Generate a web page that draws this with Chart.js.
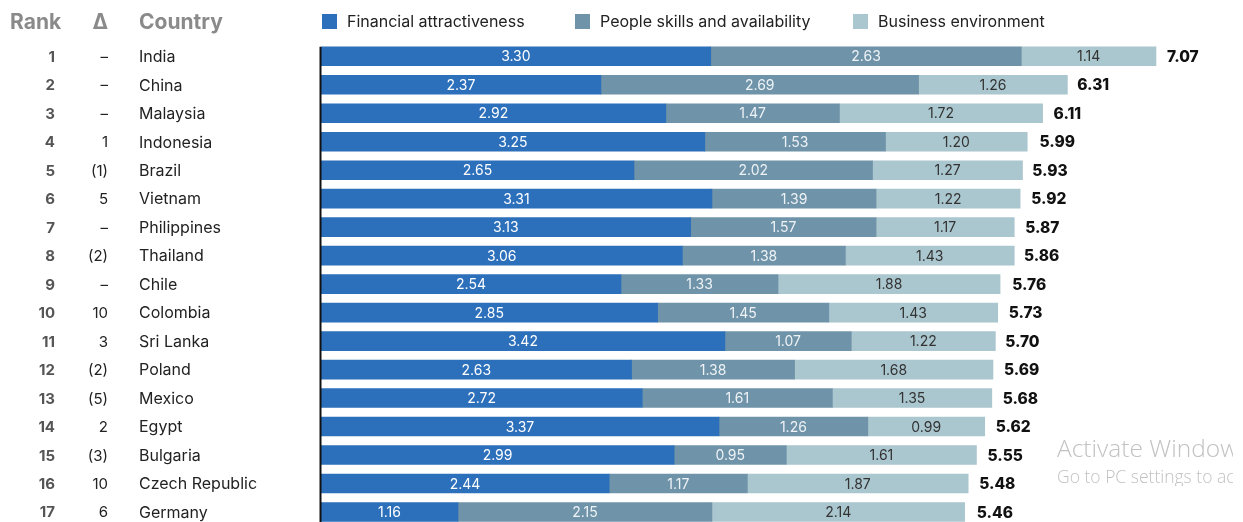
<!DOCTYPE html>
<html>
<head>
<meta charset="utf-8">
<script src="https://cdn.jsdelivr.net/npm/chart.js@4"></script>
<style>
  html, body { margin: 0; padding: 0; background: #fff; overflow: hidden; width: 1243px; height: 522px; }
  #wrap { position: relative; width: 1243px; height: 530px; }
  .wm { position: absolute; left: 1057px; width: 176px; overflow: hidden; color: #c2c2c2; font-family: "Open Sans", "Noto Sans", sans-serif; font-weight: 300; white-space: nowrap; line-height: 1; }
  #wm1 { top: 436px; font-size: 24.5px; }
  #wm2 { top: 468px; font-size: 17.5px; }
</style>
</head>
<body>
<div id="wrap">
  <canvas id="c" width="1243" height="530"></canvas>
  <div class="wm" id="wm1">Activate Windows</div>
  <div class="wm" id="wm2">Go to PC settings to activate Windows.</div>
</div>
<script>
const countries = ["India","China","Malaysia","Indonesia","Brazil","Vietnam","Philippines","Thailand","Chile","Colombia","Sri Lanka","Poland","Mexico","Egypt","Bulgaria","Czech Republic","Germany"];
const ranks = ["1","2","3","4","5","6","7","8","9","10","11","12","13","14","15","16","17"];
const deltas = ["–","–","–","1","(1)","5","–","(2)","–","10","3","(2)","(5)","2","(3)","10","6"];
const financial = [3.30,2.37,2.92,3.25,2.65,3.31,3.13,3.06,2.54,2.85,3.42,2.63,2.72,3.37,2.99,2.44,1.16];
const people = [2.63,2.69,1.47,1.53,2.02,1.39,1.57,1.38,1.33,1.45,1.07,1.38,1.61,1.26,0.95,1.17,2.15];
const business = [1.14,1.26,1.72,1.20,1.27,1.22,1.17,1.43,1.88,1.43,1.22,1.68,1.35,0.99,1.61,1.87,2.14];
const totals = [7.07,6.31,6.11,5.99,5.93,5.92,5.87,5.86,5.76,5.73,5.70,5.69,5.68,5.62,5.55,5.48,5.46];
const seriesNames = ["Financial attractiveness","People skills and availability","Business environment"];
const headers = ["Rank","Δ","Country"];

const FONT = "Inter, 'Open Sans', sans-serif";
const colors = ["#2c6fba","#6f93a8","#aac6ce"];
const labelColors = ["#ffffff","#eef3f6","#333333"];

const overlay = {
  id: "overlay",
  afterDatasetsDraw(chart) {
    const ctx = chart.ctx;
    const x = chart.scales.x, y = chart.scales.y;
    ctx.save();
    ctx.textBaseline = "middle";
    // segment value labels
    chart.data.datasets.forEach((ds, di) => {
      const meta = chart.getDatasetMeta(di);
      meta.data.forEach((bar, i) => {
        ctx.font = "14px " + FONT;
        ctx.fillStyle = labelColors[di];
        ctx.textAlign = "center";
        ctx.fillText(ds.data[i].toFixed(2), (bar.x + bar.base) / 2, bar.y + 1);
      });
    });
    // totals
    totals.forEach((t, i) => {
      ctx.font = "800 15.5px " + FONT;
      ctx.fillStyle = "#111";
      ctx.textAlign = "left";
      ctx.fillText(t.toFixed(2), x.getPixelForValue(t) + 11, y.getPixelForValue(i) + 1);
    });
    // rank, delta, country columns
    countries.forEach((c, i) => {
      const py = y.getPixelForValue(i) + 1;
      ctx.font = "bold 15px " + FONT;
      ctx.fillStyle = "#555";
      ctx.textAlign = "right";
      ctx.fillText(ranks[i], 55, py);
      ctx.font = "15px " + FONT;
      ctx.fillStyle = "#222";
      ctx.fillText(deltas[i], 108, py);
      ctx.font = "16px " + FONT;
      ctx.textAlign = "left";
      ctx.fillText(c, 139, py);
    });
    // headers
    ctx.font = "bold 21px " + FONT;
    ctx.fillStyle = "#8a8a8a";
    ctx.textAlign = "left";
    ctx.fillText(headers[0], 10, 23);
    ctx.textAlign = "right";
    ctx.fillText(headers[1], 108, 23);
    ctx.textAlign = "left";
    ctx.fillText(headers[2], 139, 23);
    // legend
    const lx = [322, 575, 853];
    seriesNames.forEach((n, i) => {
      ctx.fillStyle = colors[i];
      ctx.fillRect(lx[i], 14, 15, 15);
      ctx.font = "16px " + FONT;
      ctx.fillStyle = "#222";
      ctx.textAlign = "left";
      ctx.fillText(n, lx[i] + 25, 22);
    });
    // axis line
    const firstBar = chart.getDatasetMeta(0).data[0];
    const x0 = x.getPixelForValue(0);
    ctx.strokeStyle = "#111";
    ctx.lineWidth = 2;
    ctx.beginPath();
    ctx.moveTo(x0 - 0.5, firstBar.y - firstBar.height / 2);
    ctx.lineTo(x0 - 0.5, chart.height);
    ctx.stroke();
    ctx.restore();
  }
};

new Chart(document.getElementById("c"), {
  type: "bar",
  data: {
    labels: countries,
    datasets: [
      { label: seriesNames[0], data: financial, backgroundColor: colors[0] },
      { label: seriesNames[1], data: people, backgroundColor: colors[1] },
      { label: seriesNames[2], data: business, backgroundColor: colors[2] }
    ]
  },
  options: {
    indexAxis: "y",
    responsive: false,
    animation: false,
    devicePixelRatio: 1,
    layout: { padding: { left: 321, right: 36.25, top: 42.05, bottom: 3.8 } },
    datasets: { bar: { barThickness: 19, borderWidth: 0 } },
    plugins: { legend: { display: false }, tooltip: { enabled: false } },
    scales: {
      x: { stacked: true, min: 0, max: 7.5, display: false },
      y: { stacked: true, display: false }
    }
  },
  plugins: [overlay]
});
</script>
</body>
</html>
